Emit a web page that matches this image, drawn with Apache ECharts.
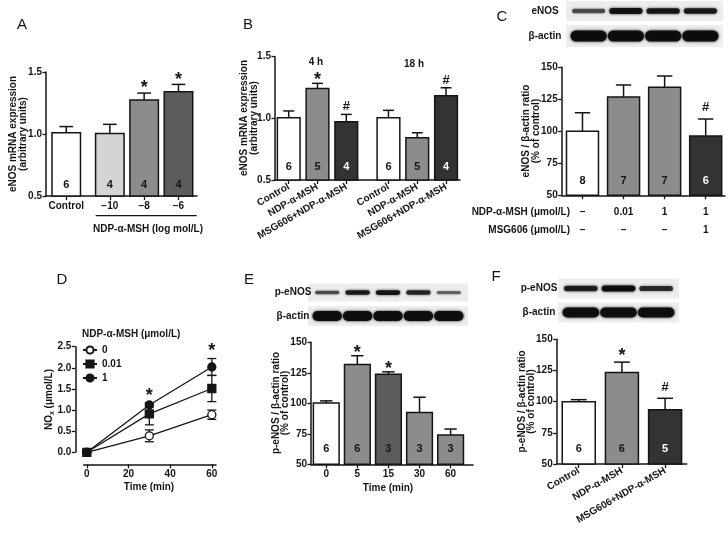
<!DOCTYPE html>
<html><head><meta charset="utf-8">
<script src="https://cdn.jsdelivr.net/npm/echarts@6/dist/echarts.min.js"></script>
<style>html,body{margin:0;padding:0;background:#fff}#c{width:728px;height:534px}</style>
</head><body><div id="c"></div>
<script>
// ---------------- DATA ----------------
// Panel A
const aCategories = ['Control', '\u221210', '\u22128', '\u22126'];
const aValues = [1.01, 1.005, 1.275, 1.34];
const aErrors = [0.05, 0.073, 0.055, 0.06];
const aN = [6, 4, 4, 4];
const aMarks = ['', '', '*', '*'];
// Panel B
const bCategories = ['Control', 'NDP-\u03b1-MSH', 'MSG606+NDP-\u03b1-MSH', 'Control', 'NDP-\u03b1-MSH', 'MSG606+NDP-\u03b1-MSH'];
const bValues = [1.005, 1.243, 0.973, 1.005, 0.843, 1.183];
const bErrors = [0.055, 0.041, 0.059, 0.06, 0.04, 0.065];
const bN = [6, 5, 4, 6, 5, 4];
const bMarks = ['', '*', '#', '', '', '#'];
const bGroups = ['4 h', '18 h'];
// Panel C
const cNdpDose = ['\u2013', '0.01', '1', '1'];
const cMsgDose = ['\u2013', '\u2013', '\u2013', '1'];
const cValues = [100, 126.8, 134.4, 96.3];
const cErrors = [14.5, 9.4, 8.8, 13.3];
const cN = [8, 7, 7, 6];
const cMarks = ['', '', '', '#'];
const cBlotENOS = [0.45, 0.95, 0.9, 0.85];
const cBlotActin = [1, 1, 1, 1];
// Panel D
const dLegend = ['0', '0.01', '1'];
const dTimes = [0, 30, 60];
const d0 = [0, 0.39, 0.89];
const d0Err = [0, 0.14, 0.11];
const d001 = [0, 0.91, 1.51];
const d001Err = [0, 0.26, 0.31];
const d1 = [0, 1.12, 2.02];
const d1Err = [0, 0.05, 0.2];
const dMarks = ['', '*', '*'];
const dXTicks = [0, 20, 40, 60];
// Panel E
const eCategories = ['0', '5', '15', '30', '60'];
const eValues = [100.2, 131.9, 123.9, 92.4, 74.0];
const eErrors = [1.8, 7.1, 1.9, 12.6, 4.9];
const eN = [6, 6, 3, 3, 3];
const eMarks = ['', '*', '*', '', ''];
const eBlotPENOS = [0.45, 0.85, 0.9, 0.75, 0.3];
const eBlotActin = [1, 1, 1, 1, 1];
// Panel F
const fCategories = ['Control', 'NDP-\u03b1-MSH', 'MSG606+NDP-\u03b1-MSH'];
const fValues = [100, 123.4, 93.6];
const fErrors = [1.6, 8.3, 9.1];
const fN = [6, 6, 5];
const fMarks = ['', '*', '#'];
const fBlotPENOS = [0.8, 1, 0.7];
const fBlotActin = [1, 1, 1];

// ---------------- STYLE / LAYOUT ----------------
const FONT = '"Liberation Sans", Arial, Helvetica, sans-serif';
const INK = '#151515';
const WHITE = '#ffffff', LIGHT = '#d4d4d4', MID = '#8c8c8c', DARKMID = '#5c5c5c', DARK = '#333333';

function positions(n, gapIndex, gap) {
  const p = [];
  for (let i = 0; i < n; i++) p.push(i + (gapIndex != null && i >= gapIndex ? gap : 0));
  return p;
}
function nearest(arr, v) {
  let bi = 0, bd = Infinity;
  arr.forEach((a, i) => { const d = Math.abs(a - v); if (d < bd) { bd = d; bi = i; } });
  return bi;
}

const PA = {cats: aCategories, vals: aValues, errs: aErrors, ns: aN, marks: aMarks,
  pos: positions(4, 1, 0.27), grid: {left: 46, top: 72, width: 151, height: 124},
  xMin: -0.59, xMax: 3.81, yMin: 0.5, yMax: 1.5, yInt: 0.5, dec: 1, bw: 28.5,
  fills: [WHITE, LIGHT, MID, DARKMID], nFill: [INK, INK, INK, INK], nOff: 11, markGap: 9, rotate: 0};
const PB = {cats: bCategories, vals: bValues, errs: bErrors, ns: bN, marks: bMarks,
  pos: positions(6, 3, 0.465), grid: {left: 275, top: 56.7, width: 185, height: 123.3},
  xMin: -0.476, xMax: 5.95, yMin: 0.5, yMax: 1.5, yInt: 0.5, dec: 1, bw: 22.7,
  fills: [WHITE, MID, DARK, WHITE, MID, DARK], nFill: [INK, INK, WHITE, INK, INK, WHITE], nOff: 13, markGap: 7.5, rotate: 30};
const PC = {cats: null, vals: cValues, errs: cErrors, ns: cN, marks: cMarks,
  pos: positions(4), grid: {left: 561.7, top: 67.3, width: 163.3, height: 128},
  xMin: -0.506, xMax: 3.47, yMin: 50, yMax: 150, yInt: 25, dec: 0, bw: 32,
  fills: [WHITE, MID, MID, DARK], nFill: [INK, INK, INK, WHITE], nOff: 14.3, markGap: 11.5, rotate: 0};
const PE = {cats: eCategories, vals: eValues, errs: eErrors, ns: eN, marks: eMarks,
  pos: positions(5), grid: {left: 311, top: 342.3, width: 162, height: 122},
  xMin: -0.49, xMax: 4.72, yMin: 50, yMax: 150, yInt: 25, dec: 0, bw: 25.7,
  fills: [WHITE, MID, DARKMID, MID, MID], nFill: [INK, INK, INK, INK, INK], nOff: 15.3, markGap: 7, rotate: 0};
const PF = {cats: fCategories, vals: fValues, errs: fErrors, ns: fN, marks: fMarks,
  pos: positions(3), grid: {left: 556.7, top: 339.3, width: 130, height: 124.7},
  xMin: -0.51, xMax: 2.5, yMin: 50, yMax: 150, yInt: 25, dec: 0, bw: 33,
  fills: [WHITE, MID, DARK], nFill: [INK, INK, WHITE], nOff: 15, markGap: 10.5, rotate: 30};
const GD = {left: 83.7, top: 346.7, width: 132.3, height: 105.6};

// ---------------- BUILDERS ----------------
const labelStyle = {color: INK, fontFamily: FONT, fontWeight: 'bold', fontSize: 10};
const axisLineStyle = {color: INK, width: 1.5};

function xAxisBar(idx, p) {
  return {type: 'value', gridIndex: idx, min: p.xMin, max: p.xMax,
    splitLine: {show: false},
    axisLine: {show: true, onZero: false, lineStyle: axisLineStyle},
    axisTick: {show: true, customValues: p.pos, length: 4, lineStyle: {color: INK, width: 1.3}},
    axisLabel: Object.assign({show: !!p.cats, customValues: p.pos,
      formatter: v => p.cats ? p.cats[nearest(p.pos, v)] : '',
      rotate: p.rotate, margin: p.rotate ? 6 : 5, hideOverlap: false}, labelStyle)
  };
}
function yAxisP(idx, min, max, int, dec, offset) {
  return {type: 'value', gridIndex: idx, min, max, interval: int, offset: offset || 0,
    splitLine: {show: false},
    axisLine: {show: true, onZero: false, lineStyle: axisLineStyle},
    axisTick: {show: true, length: 3.5, lineStyle: {color: INK, width: 1.3}},
    axisLabel: Object.assign({margin: 4, formatter: v => v.toFixed(dec)}, labelStyle)
  };
}
function markText(m, x, yc) {
  const star = m === '*';
  const fs = star ? 18 : 13;
  return {type: 'text', x, y: yc + (star ? fs * 0.24 : 0),
    style: {text: m, fill: INK, font: 'bold ' + fs + 'px ' + FONT, align: 'center', verticalAlign: 'middle'}};
}
function barSeries(idx, p) {
  return {type: 'custom', xAxisIndex: idx, yAxisIndex: idx, clip: false,
    data: p.vals.map((v, i) => [p.pos[i], v, p.errs[i]]),
    renderItem: (params, api) => {
      const i = params.dataIndex;
      const x = api.value(0), v = api.value(1), e = api.value(2);
      const base = api.coord([x, p.yMin]), top = api.coord([x, v]), et = api.coord([x, v + e]);
      const cx = base[0], w = p.bw, cap = w * 0.48;
      const ch = [
        {type: 'line', shape: {x1: cx, y1: top[1], x2: cx, y2: et[1]}, style: {stroke: INK, lineWidth: 1.5}},
        {type: 'line', shape: {x1: cx - cap / 2, y1: et[1], x2: cx + cap / 2, y2: et[1]}, style: {stroke: INK, lineWidth: 1.5}},
        {type: 'rect', shape: {x: cx - w / 2, y: top[1], width: w, height: base[1] - top[1]},
          style: {fill: p.fills[i], stroke: INK, lineWidth: 1.5}},
        {type: 'text', x: cx, y: base[1] - p.nOff,
          style: {text: String(p.ns[i]), fill: p.nFill[i], font: 'bold 11px ' + FONT, align: 'center', verticalAlign: 'middle'}}
      ];
      if (p.marks[i]) ch.push(markText(p.marks[i], cx, et[1] - p.markGap));
      return {type: 'group', children: ch};
    }
  };
}
function txt(x, y, text, extra) {
  return {type: 'text', x, y, silent: true,
    style: Object.assign({text, fill: INK, font: 'bold 10px ' + FONT, align: 'center', verticalAlign: 'middle'}, extra || {})};
}
function ytitle(x, y, text) {
  return {type: 'text', x, y, rotation: Math.PI / 2, silent: true,
    style: {text, fill: INK, font: 'bold 10px ' + FONT, align: 'center', verticalAlign: 'middle', lineHeight: 9.5}};
}
function blot(x0, x1, rows) {
  const els = [];
  rows.forEach(r => {
    els.push({type: 'rect', silent: true, shape: {x: x0 - 4, y: r.y - r.bgH / 2, width: x1 - x0 + 8, height: r.bgH}, style: {fill: '#ededed'}});
    const n = r.ints.length, lw = (x1 - x0) / n;
    r.ints.forEach((k, i) => {
      const h = r.h * (0.5 + 0.5 * k);
      els.push({type: 'rect', silent: true,
        shape: {x: x0 + i * lw + r.pad, y: r.y - h / 2, width: lw - 2 * r.pad, height: h, r: h / 2},
        style: {fill: 'rgba(12,12,12,' + (0.35 + 0.6 * k) + ')', shadowBlur: 3, shadowColor: 'rgba(0,0,0,' + (0.3 + 0.6 * k) + ')'}});
    });
    els.push(txt(r.labelX, r.y, r.label));
  });
  return els;
}

// ---------------- OPTION ----------------
const barPanels = [PA, PB, PC, null, PE, PF];
const grids = [PA.grid, PB.grid, PC.grid, GD, PE.grid, PF.grid].map(g => Object.assign({containLabel: false, outerBoundsMode: 'none'}, g));

const xAxes = [], yAxes = [];
barPanels.forEach((p, idx) => {
  if (p) {
    xAxes.push(xAxisBar(idx, p));
    yAxes.push(yAxisP(idx, p.yMin, p.yMax, p.yInt, p.dec, 0));
  } else {
    xAxes.push({type: 'value', gridIndex: idx, min: -1.5, max: 62, offset: 12,
      splitLine: {show: false},
      axisLine: {show: true, onZero: false, lineStyle: axisLineStyle},
      axisTick: {show: true, customValues: dXTicks, length: 4, lineStyle: {color: INK, width: 1.3}},
      axisLabel: Object.assign({customValues: dXTicks, margin: 5}, labelStyle)});
    yAxes.push(yAxisP(idx, 0, 2.5, 0.5, 1, 8.4));
  }
});

const series = [];
barPanels.forEach((p, idx) => { if (p) series.push(barSeries(idx, p)); });

// C dose table (below axis, positioned with the axis scale)
series.push({type: 'custom', xAxisIndex: 2, yAxisIndex: 2, clip: false, silent: true,
  data: cNdpDose.map((d, i) => [PC.pos[i], i]),
  renderItem: (params, api) => {
    const i = params.dataIndex;
    const b = api.coord([api.value(0), PC.yMin]);
    return {type: 'group', children: [
      {type: 'text', x: b[0], y: b[1] + 17, style: {text: cNdpDose[i], fill: INK, font: 'bold 10px ' + FONT, align: 'center', verticalAlign: 'middle'}},
      {type: 'text', x: b[0], y: b[1] + 35, style: {text: cMsgDose[i], fill: INK, font: 'bold 10px ' + FONT, align: 'center', verticalAlign: 'middle'}}
    ]};
  }});

// D lines
const dDefs = [
  {name: dLegend[0], vals: d0, errs: d0Err, symbol: 'circle', fill: WHITE},
  {name: dLegend[1], vals: d001, errs: d001Err, symbol: 'rect', fill: INK},
  {name: dLegend[2], vals: d1, errs: d1Err, symbol: 'circle', fill: INK}
];
series.push({type: 'custom', xAxisIndex: 3, yAxisIndex: 3, clip: false, z: 1,
  data: dDefs.flatMap(s => dTimes.map((t, i) => [t, s.vals[i], s.errs[i]])).filter(r => r[2] > 0),
  renderItem: (params, api) => {
    const x = api.value(0), v = api.value(1), e = api.value(2);
    const hi = api.coord([x, v + e]), lo = api.coord([x, v - e]);
    const cap = 9, st = {stroke: INK, lineWidth: 1.3};
    return {type: 'group', children: [
      {type: 'line', shape: {x1: hi[0], y1: hi[1], x2: lo[0], y2: lo[1]}, style: st},
      {type: 'line', shape: {x1: hi[0] - cap / 2, y1: hi[1], x2: hi[0] + cap / 2, y2: hi[1]}, style: st},
      {type: 'line', shape: {x1: lo[0] - cap / 2, y1: lo[1], x2: lo[0] + cap / 2, y2: lo[1]}, style: st}
    ]};
  }});
dDefs.forEach((s, k) => {
  series.push({type: 'line', name: s.name, xAxisIndex: 3, yAxisIndex: 3, z: 3 + k,
    data: dTimes.map((t, i) => [t, s.vals[i]]),
    symbol: s.symbol, symbolSize: 8, showSymbol: true,
    lineStyle: {color: INK, width: 1.3},
    itemStyle: {color: s.fill, borderColor: INK, borderWidth: 1.3}});
});
series.push({type: 'custom', xAxisIndex: 3, yAxisIndex: 3, clip: false, z: 10,
  data: dTimes.map((t, i) => [t, Math.max(...dDefs.map(s => s.vals[i] + s.errs[i])), i]).filter(r => dMarks[r[2]]),
  renderItem: (params, api) => {
    const c = api.coord([api.value(0), api.value(1)]);
    return markText(dMarks[api.value(2)], c[0], c[1] - 11.5);
  }});

const graphic = [
  // panel letters
  txt(22, 25, 'A', {font: '15px ' + FONT}),
  txt(248, 25, 'B', {font: '15px ' + FONT}),
  txt(502, 17, 'C', {font: '15px ' + FONT}),
  txt(62, 280, 'D', {font: '15px ' + FONT}),
  txt(249, 280, 'E', {font: '15px ' + FONT}),
  txt(496, 277, 'F', {font: '15px ' + FONT}),
  // y titles
  ytitle(18, 134, 'eNOS mRNA expression\n(arbitrary units)'),
  ytitle(249, 118, 'eNOS mRNA expression\n(arbitrary units)'),
  ytitle(531, 131, 'eNOS / \u03b2-actin ratio\n(% of control)'),
  {type: 'text', x: 49.5, y: 399.5, rotation: Math.PI / 2, silent: true,
    style: {text: 'NO{s|x} (\u03bcmol/L)', fill: INK, font: 'bold 10px ' + FONT, align: 'center', verticalAlign: 'middle',
      rich: {s: {fontSize: 7, fontWeight: 'bold', fontFamily: FONT, verticalAlign: 'bottom', padding: [6, 0, 0, 0]}}}},
  ytitle(280.5, 403, 'p-eNOS / \u03b2-actin ratio\n(% of control)'),
  ytitle(526.5, 401.5, 'p-eNOS / \u03b2-actin ratio\n(% of control)'),
  // A bracket
  {type: 'line', silent: true, shape: {x1: 95.7, y1: 215.7, x2: 196.7, y2: 215.7}, style: {stroke: INK, lineWidth: 1.3}},
  txt(148, 229, 'NDP-\u03b1-MSH (log mol/L)'),
  // B groups
  txt(316, 62.5, bGroups[0]),
  txt(414, 64, bGroups[1]),
  // C table row labels
  txt(570, 212, 'NDP-\u03b1-MSH (\u03bcmol/L)', {align: 'right'}),
  txt(570, 230, 'MSG606 (\u03bcmol/L)', {align: 'right'}),
  // D legend title & axis name
  txt(82, 334, 'NDP-\u03b1-MSH (\u03bcmol/L)', {align: 'left'}),
  txt(149, 487, 'Time (min)'),
  // E axis name
  txt(388, 488, 'Time (min)')
].concat(
  blot(570, 719, [
    {label: 'eNOS', labelX: 545, y: 11, h: 6, bgH: 20, pad: 2, ints: cBlotENOS},
    {label: '\u03b2-actin', labelX: 545, y: 36, h: 11, bgH: 22, pad: 0.5, ints: cBlotActin}]),
  blot(312, 464, [
    {label: 'p-eNOS', labelX: 293, y: 292.5, h: 5, bgH: 18, pad: 3, ints: eBlotPENOS},
    {label: '\u03b2-actin', labelX: 293, y: 316, h: 10, bgH: 20, pad: 0.5, ints: eBlotActin}]),
  blot(562, 675, [
    {label: 'p-eNOS', labelX: 539, y: 288.5, h: 6, bgH: 20, pad: 2, ints: fBlotPENOS},
    {label: '\u03b2-actin', labelX: 539, y: 312.5, h: 10, bgH: 20, pad: 0.5, ints: fBlotActin}])
);

const option = {
  animation: false,
  backgroundColor: '#ffffff',
  grid: grids,
  xAxis: xAxes,
  yAxis: yAxes,
  legend: {data: dLegend, orient: 'vertical', left: 82, top: 345, itemWidth: 14, itemHeight: 9, itemGap: 4, padding: 0,
    selectedMode: false, textStyle: {fontFamily: FONT, fontWeight: 'bold', fontSize: 10, color: INK}},
  series,
  graphic
};
const chart = echarts.init(document.getElementById('c'), null, {renderer: 'canvas', width: 728, height: 534});
chart.setOption(option);
</script>
</body></html>
